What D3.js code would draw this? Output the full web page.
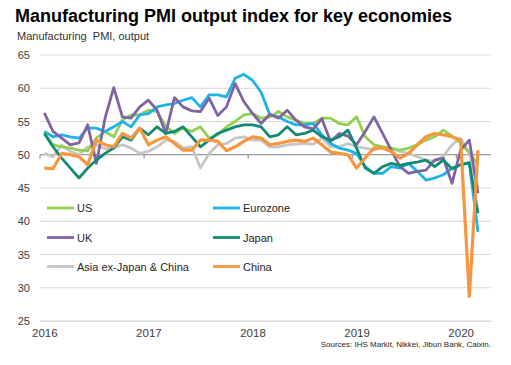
<!DOCTYPE html>
<html><head><meta charset="utf-8">
<script src="https://cdn.jsdelivr.net/npm/d3@7"></script>
<style>
body{margin:0;background:#fff;}
text{font-family:"Liberation Sans",Arial,sans-serif;}
</style></head>
<body><svg id="c" width="511" height="365"></svg>
<script>
const startYear = 2016;
const yearLabels = ["2016","2017","2018","2019","2020"];
const yTicks = [25,30,35,40,45,50,55,60,65];
const seriesNames = ["US","Eurozone","UK","Japan","Asia ex-Japan & China","China"];
const seriesColors = ["#92d050","#1fb2e8","#8064a2","#138a72","#c6c6c6","#f7963f"];

const us = [53.2,51.5,51.2,51.0,50.7,50.6,52.5,53.5,52.7,55.2,56.0,56.0,
  56.7,56.5,54.3,53.2,54.0,53.5,54.2,52.5,53.0,54.2,55.0,56.0,
  56.2,55.5,55.7,56.5,55.7,55.2,54.7,54.7,55.5,55.5,54.7,54.5,
  55.7,52.7,51.5,51.2,51.0,50.7,51.0,51.5,52.2,52.7,53.7,52.8,
  51.8,50.3,48.5];
const eurozone = [53.5,52.7,53.0,52.7,52.5,54.0,54.0,53.5,54.2,55.0,54.2,56.0,
  56.2,57.2,57.5,57.7,58.2,58.6,57.2,59.0,59.0,58.7,61.5,62.1,
  61.2,59.4,56.0,55.7,55.0,54.5,54.5,54.7,53.0,51.7,51.0,50.7,
  50.2,48.2,47.2,47.2,48.2,48.0,48.7,47.5,46.2,46.5,47.0,48.0,
  48.5,48.7,38.4];
const uk = [56.3,53.5,52.5,51.5,51.8,54.5,48.7,55.5,60.1,55.7,55.5,57.2,
  58.2,56.7,53.2,58.6,57.2,56.6,56.5,58.5,55.9,57.2,60.7,58.0,
  56.2,54.7,56.1,55.5,56.7,55.2,54.2,53.9,55.4,52.0,53.2,52.8,
  51.5,53.5,55.7,53.2,50.7,48.2,47.2,47.5,47.7,49.2,49.5,45.7,
  50.7,52.2,44.2];
const japan = [53.2,51.2,49.5,48.0,46.5,48.0,49.2,50.2,51.0,52.7,52.2,54.0,
  53.0,54.2,53.2,53.5,54.2,52.7,51.2,52.2,53.2,53.7,54.2,54.5,
  54.5,54.2,52.7,53.0,54.2,53.0,53.2,53.7,52.7,52.2,52.7,53.7,
  51.0,48.0,47.2,48.2,48.7,48.4,48.7,48.9,49.2,48.2,49.2,47.9,
  48.5,48.8,41.2];
const asiaExJC = [50.2,49.7,51.5,50.5,50.0,51.2,51.5,50.9,51.0,51.5,51.0,50.2,
  50.5,51.2,52.2,52.0,51.0,51.2,48.0,50.2,51.5,51.7,52.5,52.7,
  52.2,52.2,51.2,51.2,51.5,51.6,51.7,51.6,52.5,51.2,51.2,51.7,
  51.2,51.0,50.7,51.2,50.9,50.5,50.2,49.7,49.2,49.0,49.8,51.5,
  52.5,50.2,45.0];
const china = [48.0,47.9,50.2,50.0,49.7,48.5,52.2,51.5,51.2,53.2,52.5,54.0,
  51.5,52.2,52.7,51.7,50.7,50.7,52.2,52.2,52.0,50.6,51.2,52.0,
  52.7,52.5,51.5,51.7,52.0,52.2,52.0,52.5,51.5,50.4,50.2,50.0,
  48.0,49.5,51.0,51.0,50.5,49.5,50.2,51.5,52.7,53.2,53.0,52.7,
  52.2,28.7,50.7];
const seriesValues = [us, eurozone, uk, japan, asiaExJC, china];
const drawOrder = [4,0,1,2,3,5];

const svg = d3.select("#c");
const L = 40, R = 491, T = 55, B = 321;
const x = d3.scaleLinear().domain([0, 52]).range([L, R]);
const y = d3.scaleLinear().domain([25, 65]).range([B, T]);

// title
svg.append("text").attr("x",15).attr("y",22).attr("font-size",18).attr("font-weight","bold").attr("fill","#000")
  .text("Manufacturing PMI output index for key economies");
svg.append("text").attr("x",17).attr("y",39.5).attr("font-size",11).attr("fill","#333").style("white-space","pre")
  .text("Manufacturing  PMI, output");

// gridlines
svg.append("g").selectAll("line").data(yTicks.filter(v=>v!==50)).join("line")
  .attr("x1",L).attr("x2",R).attr("y1",d=>y(d)).attr("y2",d=>y(d))
  .attr("stroke","#d9d9d9").attr("stroke-width",1);

// y axis labels
const ya = svg.append("g").attr("transform",`translate(${L},0)`)
  .call(d3.axisLeft(y).tickValues(yTicks).tickSize(0).tickPadding(10));
ya.select(".domain").remove();
ya.selectAll("text").attr("font-size",11).attr("fill","#404040").attr("font-family","Liberation Sans, Arial, sans-serif");

// 50 baseline with year ticks
const yearIdx = yearLabels.map((_,i)=>i*12);
svg.append("line").attr("x1",L).attr("x2",R).attr("y1",y(50)).attr("y2",y(50)).attr("stroke","#808080").attr("stroke-width",1.2);
svg.append("g").selectAll("line").data(yearIdx).join("line")
  .attr("x1",d=>x(d)).attr("x2",d=>x(d)).attr("y1",y(50)).attr("y2",y(50)+4)
  .attr("stroke","#808080").attr("stroke-width",1);

// x axis labels
const xa = svg.append("g").attr("transform",`translate(0,${B})`)
  .call(d3.axisBottom(x).tickValues(yearIdx.map(d=>d+0.5)).tickSize(0).tickPadding(8)
    .tickFormat((d,i)=>yearLabels[i]));
xa.select(".domain").attr("stroke","#d9d9d9");
xa.selectAll("text").attr("font-size",11.5).attr("fill","#404040").attr("font-family","Liberation Sans, Arial, sans-serif");

// lines
const line = d3.line().x((d,i)=>x(i+0.5)).y(d=>y(d)).curve(d3.curveLinear);
svg.append("g").selectAll("path").data(drawOrder).join("path")
  .attr("d",k=>line(seriesValues[k])).attr("fill","none")
  .attr("stroke",k=>seriesColors[k]).attr("stroke-width",k=>k===5?3.2:2.8)
  .attr("stroke-linejoin","round");

// legend
const legX = [47, 213], legY = [208, 237.5, 266.5];
const lg = svg.append("g").selectAll("g").data(seriesNames).join("g")
  .attr("transform",(d,i)=>`translate(${legX[i%2]},${legY[Math.floor(i/2)]})`);
lg.append("line").attr("x1",0).attr("x2",27).attr("stroke",(d,i)=>seriesColors[i]).attr("stroke-width",2.8);
lg.append("text").attr("x",30).attr("y",4).attr("font-size",11).attr("fill","#262626").text(d=>d);

// source
svg.append("text").attr("x",491).attr("y",347).attr("text-anchor","end").attr("font-size",8).attr("fill","#262626")
  .text("Sources: IHS Markit, Nikkei, Jibun Bank, Caixin.");
</script></body></html>
